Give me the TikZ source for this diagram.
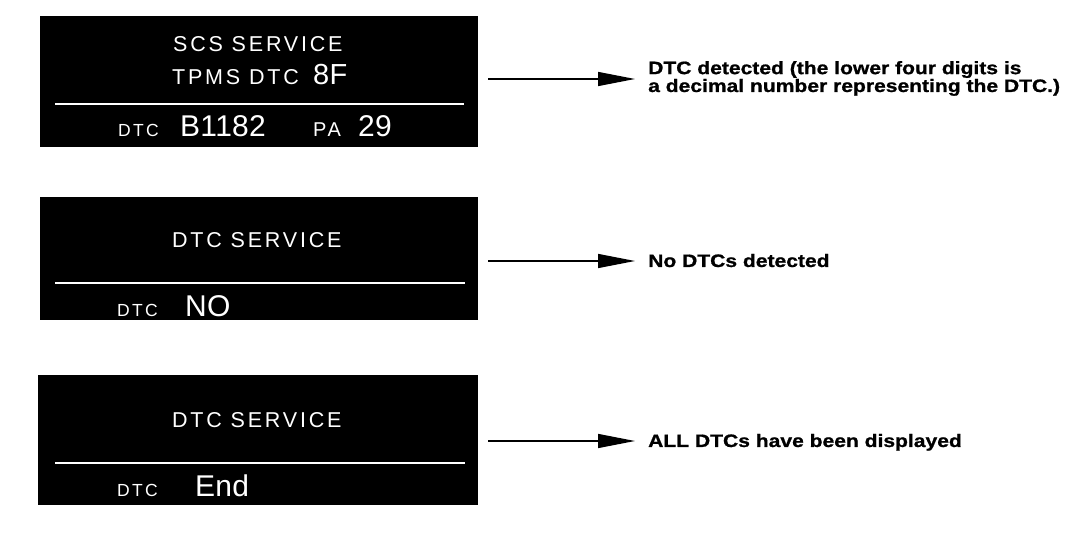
\documentclass[tikz,border=0pt]{standalone}
\usepackage{fontspec}
\usetikzlibrary{arrows.meta}
\newfontfamily\lcdfont[LetterSpace=13]{Liberation Sans}
\newfontfamily\lcdbig[LetterSpace=1]{Liberation Sans}
\newfontfamily\lblfont[FakeStretch=1.17,FakeBold=1]{Liberation Sans Bold}
\tikzset{
  panel/.style={fill=black, draw=none, inner sep=0pt},
  sep/.style={draw=white, line width=2.5pt},
  lcd/.style={text=white, inner sep=0pt, anchor=base west},
  lcdS/.style={lcd, font=\lcdfont\fontsize{17.5}{18}\selectfont},
  lcdP/.style={lcd, font=\lcdfont\fontsize{20}{20}\selectfont},
  lcdM/.style={lcd, font=\lcdfont\fontsize{21.5}{22}\selectfont},
  lcdL/.style={lcd, font=\lcdbig\fontsize{29}{29}\selectfont},
  lcdX/.style={lcd, font=\lcdbig\fontsize{30}{30}\selectfont},
  lbl/.style={inner sep=0pt, anchor=base west, align=left, font=\lblfont\fontsize{18}{15.5}\selectfont},
  arr/.style={line width=1.4pt, -{Triangle[length=37pt, width=14pt]}, shorten >=13pt}
}
\begin{document}
\begin{tikzpicture}[x=1pt, y=-1pt]
\useasboundingbox (0,0) rectangle (1088,534);
% panel 1
\node[panel, minimum width=438pt, minimum height=131pt] (p1) at (259,81.5) {};
\draw[sep] (55,104) -- (464,104);
\node[lcdM] (p1a) at (173,52) {SCS SERVICE};
\node[lcdM] (p1b) at (172,85) {TPMS DTC};
\node[lcdL] (p1c) at (313,85) {8F};
\node[lcdS] (p1d) at (118,137) {DTC};
\node[lcdX] (p1e) at (180,137) {B1182};
\node[lcdP] (p1f) at (313,137) {PA};
\node[lcdX] (p1g) at (358,137) {29};
% panel 2
\node[panel, minimum width=438pt, minimum height=123pt] (p2) at (259,258.5) {};
\draw[sep] (55,283) -- (465,283);
\node[lcdM] (p2a) at (172,248) {DTC SERVICE};
\node[lcdS] (p2b) at (117,317) {DTC};
\node[lcdX] (p2c) at (185,317) {NO};
% panel 3
\node[panel, minimum width=440pt, minimum height=130pt] (p3) at (258,440) {};
\draw[sep] (55,463) -- (465,463);
\node[lcdM] (p3a) at (172,428) {DTC SERVICE};
\node[lcdS] (p3b) at (117,497) {DTC};
\node[lcdX] (p3c) at (195,497) {End};
% labels
\node[lbl] (l1) at (648,92) {DTC detected (the lower four digits is\\a decimal number representing the DTC.)};
\node[lbl] (l2) at (648,267) {No DTCs detected};
\node[lbl] (l3) at (648,447) {ALL DTCs have been displayed};
% arrows
\coordinate (a1) at (488,79);
\coordinate (a2) at (488,261);
\coordinate (a3) at (488,441);
\draw[arr] (a1) -- (a1 -| l1.west);
\draw[arr] (a2) -- (a2 -| l2.west);
\draw[arr] (a3) -- (a3 -| l3.west);
\end{tikzpicture}
\end{document}
